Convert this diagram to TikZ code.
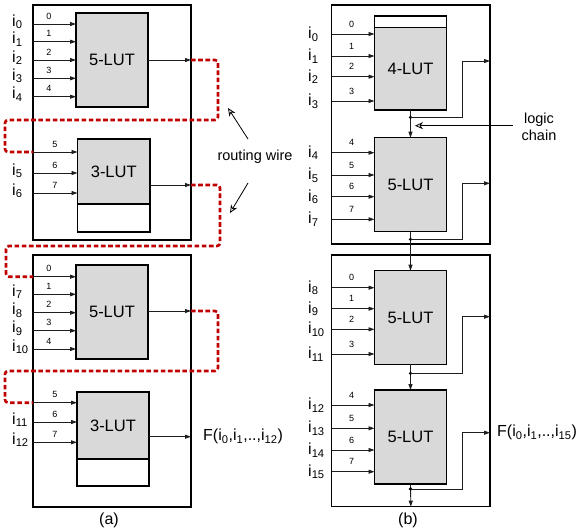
\documentclass[tikz,border=0pt]{standalone}
\usepackage{fontspec}
\setmainfont{Liberation Sans}
\usetikzlibrary{arrows.meta}
\definecolor{lutgray}{RGB}{217,217,217}
\definecolor{routered}{RGB}{192,0,0}
\definecolor{wiregray}{RGB}{30,30,30}
\begin{document}
\begin{tikzpicture}[x=1pt,y=-1pt,
  clb/.style={draw, line width=1.3pt, inner sep=0pt, outer sep=0pt},
  lut/.style={draw, line width=1.5pt, fill=lutgray, inner sep=0pt, outer sep=0pt,
    minimum width=72pt, font=\fontsize{16.5}{17}\selectfont},
  spare/.style={draw, line width=1.5pt, fill=white, inner sep=0pt, outer sep=0pt, minimum width=72pt},
  wire/.style={draw=wiregray, line width=0.9pt, -{Triangle[length=6pt,width=4pt]}},
  route/.style={draw=routered, line width=2.6pt, dash pattern=on 4.6pt off 2.6pt, rounded corners=3pt},
  num/.style={font=\fontsize{9}{9}\selectfont, anchor=base, inner sep=0pt},
  lab/.style={font=\fontsize{16}{16}\selectfont, anchor=base west, inner sep=0pt},
  note/.style={font=\fontsize{14.5}{17}\selectfont, align=center, inner sep=0pt},
  hollow/.style={line width=0.8pt, -{Stealth[open,length=8pt,width=7pt,inset=2.5pt]}},
  dotc/.style={circle, fill=black, inner sep=0pt, minimum size=3.6pt}]
\useasboundingbox (0,0) rectangle (582,531);

% ---------------- (a) ----------------
\node[clb, minimum width=158pt, minimum height=235pt] (boxA1) at (112,122.5) {};
\node[clb, minimum width=158pt, minimum height=252pt] (boxA2) at (112,381) {};
\node[lut, minimum height=94pt] (lutA1) at (112,60) {5-LUT};
\node[lut, minimum width=72.5pt, minimum height=65pt] (lutA2) at (113.75,171.5) {\raisebox{-5pt}{3-LUT}};
\node[spare, minimum width=72.5pt, minimum height=28pt, anchor=north] (spA2) at (lutA2.south) {};
\node[lut, minimum height=94pt] (lutA3) at (112,312) {5-LUT};
\node[lut, minimum height=67pt] (lutA4) at (113,425.5) {\raisebox{-4pt}{3-LUT}};
\node[spare, minimum height=27pt, anchor=north] (spA4) at (lutA4.south) {};

% inputs A1
\foreach \y/\n in {24/0,41.7/1,60/2,78.3/3,96.7/4}{
  \coordinate (sA1\n) at (33,\y);
  \draw[wire] (sA1\n) -- (sA1\n -| lutA1.west);
  \node[num] at (49,\y-5) {\n};
  \node[lab] at (12,\y+2) {i\textsubscript{\n}};
}
% inputs A2
\foreach \y/\n in {152/5,173/6,193/7}{
  \coordinate (sA2\n) at (33,\y);
  \draw[wire] (sA2\n) -- (sA2\n -| lutA2.west);
  \node[num] at (55,\y-5) {\n};
}
\node[lab] at (12,175) {i\textsubscript{5}};
\node[lab] at (12,195) {i\textsubscript{6}};
% inputs A3
\foreach \y/\n in {276.7/0,294.3/1,312.7/2,330.7/3,349/4}{
  \coordinate (sA3\n) at (33,\y);
  \draw[wire] (sA3\n) -- (sA3\n -| lutA3.west);
  \node[num] at (49,\y-5) {\n};
}
\foreach \y/\l in {294.3/7,312.7/8,330.7/9,349/10}{
  \node[lab] at (12,\y+2) {i\textsubscript{\l}};
}
% inputs A4
\foreach \y/\n in {402.7/5,422/6,442.3/7}{
  \coordinate (sA4\n) at (33,\y);
  \draw[wire] (sA4\n) -- (sA4\n -| lutA4.west);
  \node[num] at (55,\y-5) {\n};
}
\node[lab] at (12,424) {i\textsubscript{11}};
\node[lab] at (12,444) {i\textsubscript{12}};

% outputs (a)
\coordinate (oA1) at (191,60);
\coordinate (oA2) at (191,185);
\coordinate (oA3) at (191,311);
\coordinate (oA4) at (191,436.7);
\draw[wire] (oA1 -| lutA1.east) -- (oA1);
\draw[wire] (oA2 -| lutA2.east) -- (oA2);
\draw[wire] (oA3 -| lutA3.east) -- (oA3);
\draw[wire] (oA4 -| lutA4.east) -- (oA4);
\node[lab, anchor=west] (FA) at (203,436.7) {F(i\textsubscript{0},i\textsubscript{1},..,i\textsubscript{12})};

% routing wires
\draw[route] (oA1) -- (218,60) -- (218,120) -- (5,120) -- (5,152) -- (sA25);
\draw[route] (oA2) -- (220,185) -- (220,246) -- (6,246) -- (6,276.7) -- (sA30);
\draw[route] (oA3) -- (218,311) -- (218,371) -- (5,371) -- (5,402.7) -- (sA45);

\node[note] (rw) at (255,157) {routing wire};
\coordinate (rwA) at (248,139);
\coordinate (rwB) at (248,183);
\draw[hollow] (rwA) -- (228,108);
\draw[hollow] (rwB) -- (230,213);

\node[font=\fontsize{16}{16}\selectfont] (capA) at (109,520) {(a)};

% ---------------- (b) ----------------
\node[clb, minimum width=158.3pt, minimum height=239pt] (boxB1) at (410.85,124.5) {};
\node[clb, minimum width=158.3pt, minimum height=251.7pt] (boxB2) at (410.85,380.85) {};
\node[lut, minimum height=82.7pt] (lutB1) at (410.5,68.65) {4-LUT};
\node[spare, minimum height=11.3pt, anchor=south] (spB1) at (lutB1.north) {};
\node[lut, minimum height=94pt] (lutB2) at (410.5,184.7) {5-LUT};
\node[lut, minimum height=93.6pt] (lutB3) at (410.5,317.5) {5-LUT};
\node[lut, minimum height=94pt] (lutB4) at (410.5,437) {5-LUT};

\foreach \y/\n/\l in {34/0/0,56/1/1,76.7/2/2,101/3/3}{
  \coordinate (sB1\n) at (331.7,\y);
  \draw[wire] (sB1\n) -- (sB1\n -| lutB1.west);
  \node[num] at (351.7,\y-7) {\n};
  \node[lab] at (308,\y+4.5) {i\textsubscript{\l}};
}
\foreach \y/\n/\l in {152.7/4/4,175/5/5,196.7/6/6,219.3/7/7}{
  \coordinate (sB2\n) at (331.7,\y);
  \draw[wire] (sB2\n) -- (sB2\n -| lutB2.west);
  \node[num] at (351.7,\y-7) {\n};
  \node[lab] at (308,\y+4.5) {i\textsubscript{\l}};
}
\foreach \y/\n/\l in {287.7/0/8,308.7/1/9,329.3/2/10,354/3/11}{
  \coordinate (sB3\n) at (331.7,\y);
  \draw[wire] (sB3\n) -- (sB3\n -| lutB3.west);
  \node[num] at (351.7,\y-7) {\n};
  \node[lab] at (308,\y+4.5) {i\textsubscript{\l}};
}
\foreach \y/\n/\l in {405/4/12,428.3/5/13,450/6/14,471.7/7/15}{
  \coordinate (sB4\n) at (331.7,\y);
  \draw[wire] (sB4\n) -- (sB4\n -| lutB4.west);
  \node[num] at (351.7,\y-7) {\n};
  \node[lab] at (308,\y+4.5) {i\textsubscript{\l}};
}

% chain
\draw[wire] (lutB1.south) -- (lutB2.north);
\draw[wire] (lutB2.south) -- (lutB3.north);
\draw[wire] (lutB3.south) -- (lutB4.north);
\draw[wire] (lutB4.south) -- (boxB2.south);
\node[dotc] (dB1) at (410.5,117.3) {};
\node[dotc] (dB2) at (410.5,239.3) {};
\node[dotc] (dB3) at (410.5,373.3) {};
\node[dotc] (dB4) at (410.5,489) {};
\coordinate (oB1) at (490,61);
\coordinate (oB2) at (490,183.3);
\coordinate (oB3) at (490,316.7);
\coordinate (oB4) at (490,432.7);
\draw[wire] (dB1.center) -| (462.3,61) -- (oB1);
\draw[wire] (dB2.center) -| (462.3,183.3) -- (oB2);
\draw[wire] (dB3.center) -| (462.3,316.7) -- (oB3);
\draw[wire] (dB4.center) -| (462.3,432.7) -- (oB4);

\node[lab, anchor=west] (FB) at (497,432.7) {F(i\textsubscript{0},i\textsubscript{1},..,i\textsubscript{15})};

\node[note] (lc) at (539,127) {logic\\chain};
\coordinate (lcS) at (513,125.7);
\draw[hollow] (lcS) -- (415,125.7);

\node[font=\fontsize{16}{16}\selectfont] (capB) at (408,520) {(b)};
\end{tikzpicture}
\end{document}
